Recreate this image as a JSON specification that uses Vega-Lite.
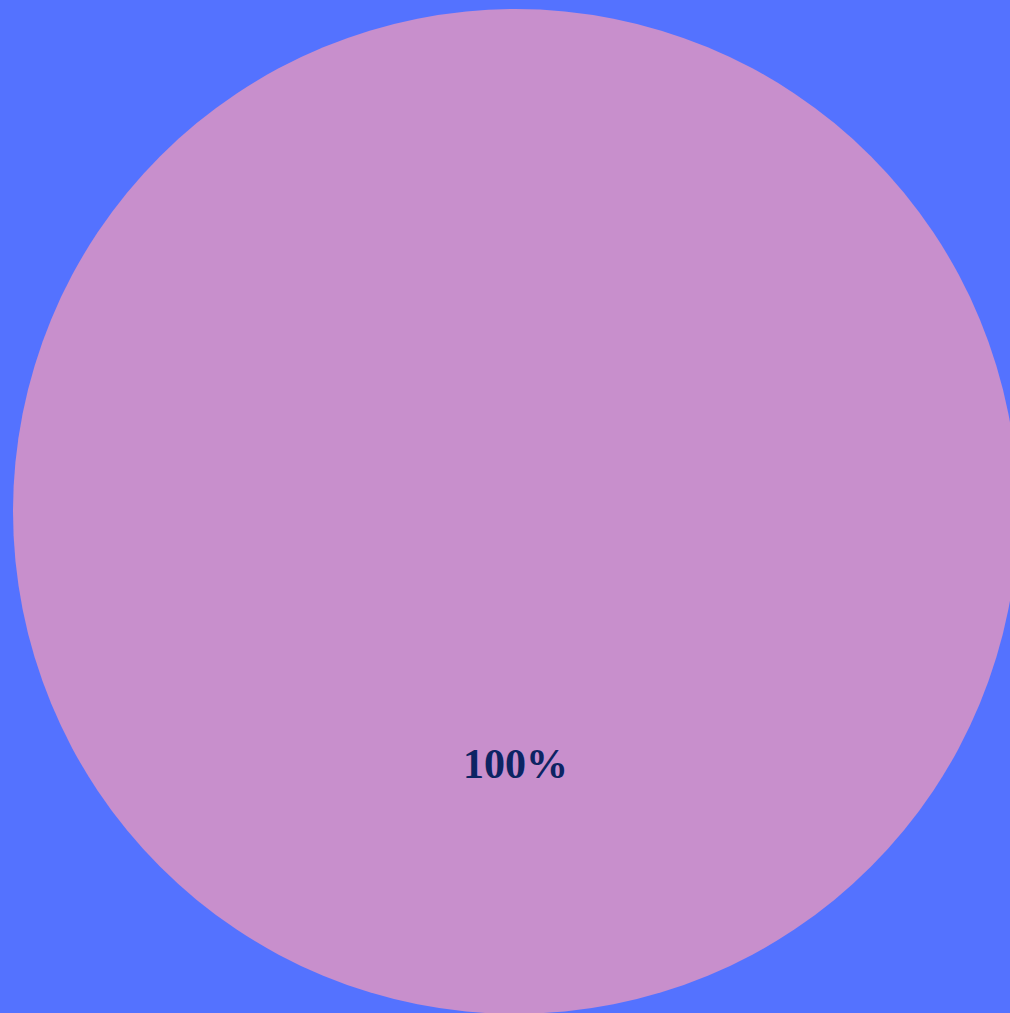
{
  "$schema": "https://vega.github.io/schema/vega-lite/v6.json",
  "width": 1005,
  "height": 1005,
  "padding": {"left": 13, "top": 9, "right": 0, "bottom": 0},
  "autosize": {"type": "none"},
  "background": "#5472FF",
  "config": {"view": {"stroke": null}},
  "data": {"values": [{"category": "A", "value": 100, "label": "100%"}]},
  "encoding": {
    "theta": {"field": "value", "type": "quantitative", "stack": true},
    "color": {"field": "category", "type": "nominal", "scale": {"range": ["#C88FCC"]}, "legend": null}
  },
  "layer": [
    {"mark": {"type": "arc", "outerRadius": 502.5, "stroke": null}},
    {"mark": {"type": "text", "radius": 253, "font": "Liberation Serif, Times New Roman, serif", "fontWeight": "bold", "fontSize": 42, "fill": "#0C2463", "align": "center", "baseline": "middle"},
     "encoding": {"text": {"field": "label"}, "color": {"value": "#0C2463"}}}
  ]
}
